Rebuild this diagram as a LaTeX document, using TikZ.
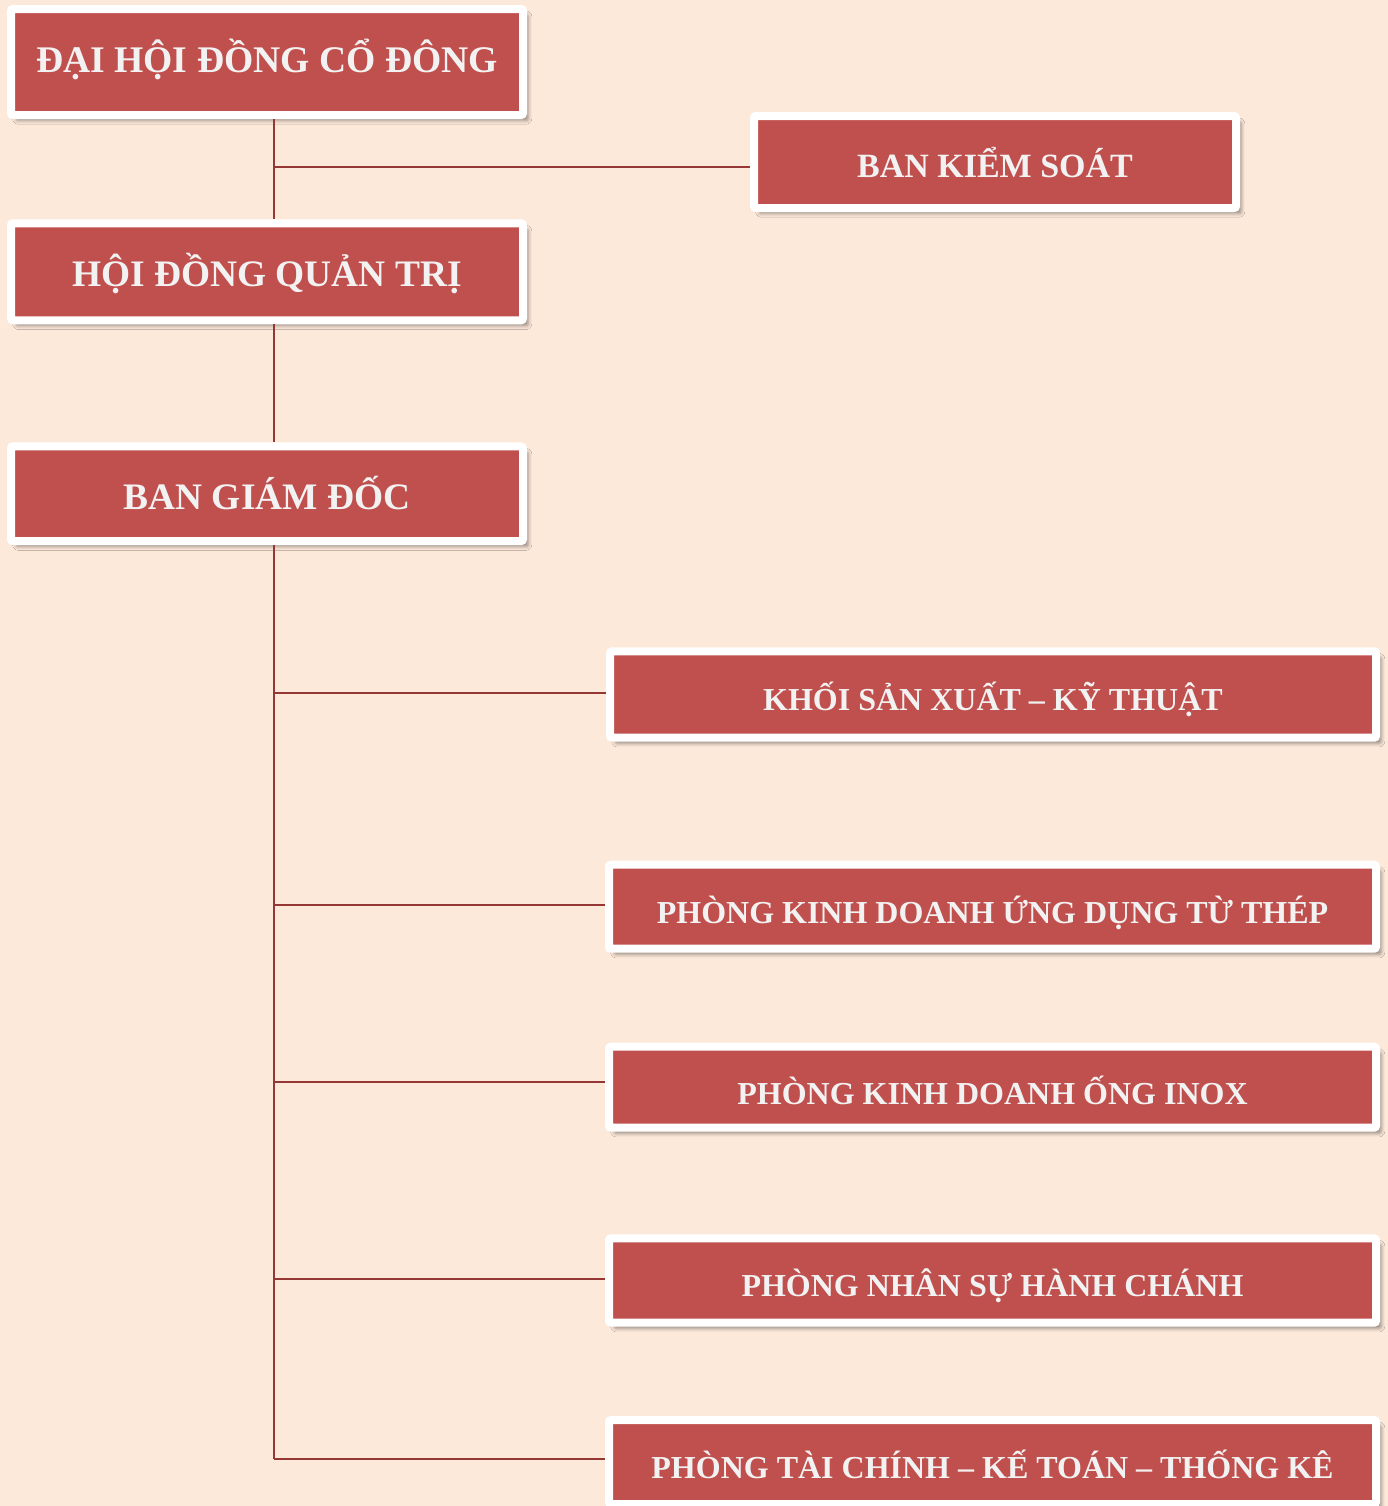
\documentclass[tikz,border=0pt]{standalone}
\usepackage{fontspec}
\setmainfont{Liberation Serif}
\usetikzlibrary{shadows.blur}
\definecolor{bgcol}{HTML}{FDE9DA}
\definecolor{boxred}{HTML}{C0504D}
\definecolor{linecol}{HTML}{953735}
\definecolor{txtcol}{HTML}{F2F2F2}
\tikzset{
  orgbox/.style 2 args={fill=boxred, draw=white, line width=4pt, rounded corners=1pt,
    inner sep=0pt, text=txtcol, font=\bfseries\fontsize{#1}{#1}\selectfont,
    text height=0.66*#1+#2, text depth=0pt,
    blur shadow={shadow xshift=2.6pt, shadow yshift=-2.8pt, shadow blur radius=1.8pt, shadow opacity=40}},
  conn/.style={draw=linecol, line width=1pt}
}
\begin{document}
\begin{tikzpicture}[x=0.5pt,y=-0.5pt]
\useasboundingbox[fill=bgcol] (0,0) rectangle (1388,1506);
\coordinate (sp) at (274,0);
\coordinate (j1) at (274,167);
\coordinate (j2) at (274,693);
\coordinate (j3) at (274,905);
\coordinate (j4) at (274,1082);
\coordinate (j5) at (274,1278.5);
\coordinate (j6) at (274,1459);
% nodes
\node[orgbox={18.8pt}{-1.8pt}, minimum width=256pt, minimum height=53pt] (dh) at (267,62) {ĐẠI HỘI ĐỒNG CỔ ĐÔNG};
\node[orgbox={17pt}{4.3pt}, minimum width=241pt, minimum height=46pt] (bks) at (995,162) {BAN KIỂM SOÁT};
\node[orgbox={18.7pt}{2.4pt}, minimum width=256pt, minimum height=48.5pt] (hd) at (267,271.8) {HỘI ĐỒNG QUẢN TRỊ};
\node[orgbox={18.7pt}{3.8pt}, minimum width=256pt, minimum height=47.35pt] (bgd) at (267,493.7) {BAN GIÁM ĐỐC};
\node[orgbox={16pt}{5.8pt}, minimum width=383pt, minimum height=43.2pt] (ksx) at (993,694.5) {KHỐI SẢN XUẤT – KỸ THUẬT};
\node[orgbox={16pt}{6.6pt}, minimum width=383.5pt, minimum height=42pt] (pkd1) at (992.5,906.7) {PHÒNG KINH DOANH ỨNG DỤNG TỪ THÉP};
\node[orgbox={16pt}{6.8pt}, minimum width=383.5pt, minimum height=40.5pt] (pkd2) at (992.5,1087.2) {PHÒNG KINH DOANH ỐNG INOX};
\node[orgbox={16pt}{5.7pt}, minimum width=383.5pt, minimum height=42.2pt] (pns) at (992.5,1280.5) {PHÒNG NHÂN SỰ HÀNH CHÁNH};
\node[orgbox={16pt}{6.3pt}, minimum width=383.5pt, minimum height=42pt] (ptc) at (992.5,1462) {PHÒNG TÀI CHÍNH – KẾ TOÁN – THỐNG KÊ};
% connectors
\draw[conn] (dh.south -| sp) -- (hd.north -| sp);
\draw[conn] (hd.south -| sp) -- (bgd.north -| sp);
\draw[conn] (bgd.south -| sp) -- (j6);
\draw[conn] (j1) -- (j1 -| bks.west);
\draw[conn] (j2) -- (j2 -| ksx.west);
\draw[conn] (j3) -- (j3 -| pkd1.west);
\draw[conn] (j4) -- (j4 -| pkd2.west);
\draw[conn] (j5) -- (j5 -| pns.west);
\draw[conn] (j6) -- (j6 -| ptc.west);
\end{tikzpicture}
\end{document}
